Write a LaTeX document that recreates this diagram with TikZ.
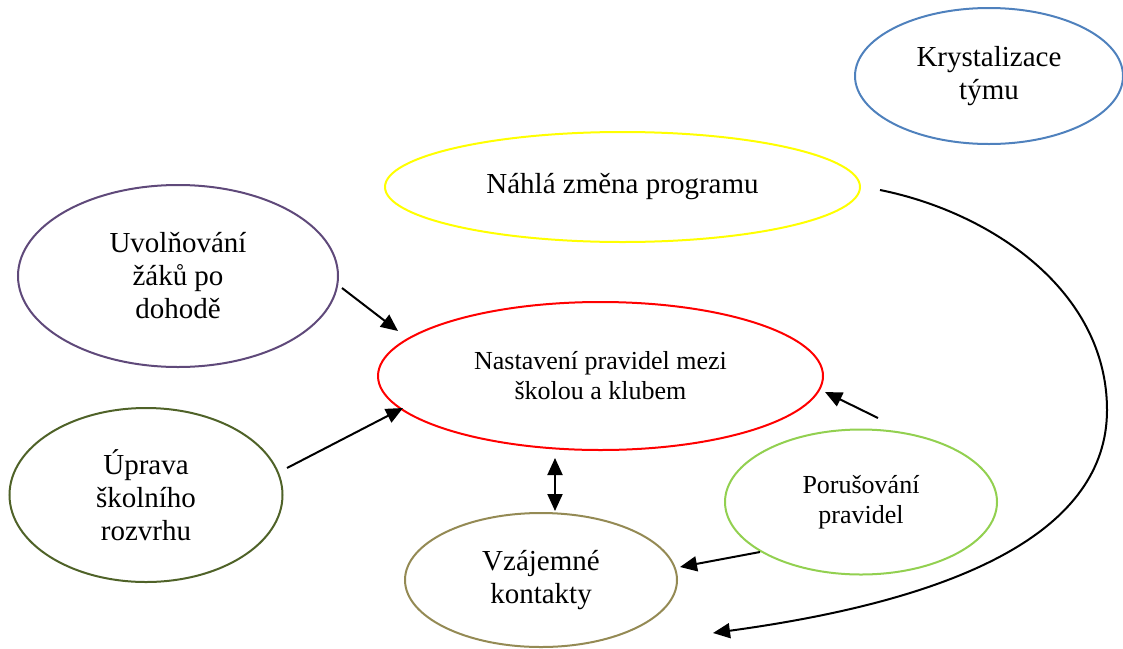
\documentclass[tikz,border=0pt]{standalone}
\usepackage{fontspec}
\setmainfont{Liberation Serif}
\usetikzlibrary{shapes.geometric,arrows.meta}
\definecolor{blueE}{HTML}{4F81BD}
\definecolor{yellowE}{HTML}{FFFF00}
\definecolor{purpleE}{HTML}{5F497A}
\definecolor{redE}{HTML}{FF0000}
\definecolor{oliveE}{HTML}{4F6228}
\definecolor{lgreenE}{HTML}{92D050}
\definecolor{khakiE}{HTML}{948A54}
\tikzset{
  ell/.style={ellipse, draw, line width=2pt, inner sep=0pt, align=center,
    font=\fontsize{29}{33}\selectfont},
  ellsmall/.style={ell, font=\fontsize{26}{30}\selectfont},
  tip/.style={Triangle[length=17pt,width=15pt]},
  arr/.style={line width=2pt, -{Triangle[length=17pt,width=15pt]}},
  darr/.style={line width=2pt, {Triangle[length=17pt,width=15pt]}-{Triangle[length=17pt,width=15pt]}}
}
\begin{document}
\begin{tikzpicture}[x=1pt,y=-1pt]
\useasboundingbox (0,0) rectangle (1123,648);
\node[ell, draw=blueE, minimum width=268pt, minimum height=136pt] (kryst) at (989,76) {Krystalizace\\týmu};
\node[ell, draw=yellowE, minimum width=475pt, minimum height=110pt] (nahla) at (622.5,187) {Náhlá změna programu};
\node[ell, draw=purpleE, minimum width=320pt, minimum height=182pt] (uvol) at (178,276) {Uvolňování\\žáků po\\dohodě};
\node[ellsmall, draw=redE, minimum width=445pt, minimum height=148pt] (nast) at (600.5,376) {Nastavení pravidel mezi\\školou a klubem};
\node[ell, draw=oliveE, minimum width=273pt, minimum height=174pt] (uprava) at (146,495) {Úprava\\školního\\rozvrhu};
\node[ellsmall, draw=lgreenE, minimum width=272pt, minimum height=145pt] (poru) at (861,502) {Porušování\\pravidel};
\node[ell, draw=khakiE, minimum width=272pt, minimum height=134pt] (vzaj) at (541,580) {Vzájemné\\kontakty};

\coordinate (a1s) at (342,288);
\coordinate (a1e) at (398,331);
\coordinate (a2s) at (287,468);
\coordinate (a2e) at (403,408);
\coordinate (a3s) at (555,458);
\coordinate (a3e) at (555,511);
\coordinate (a4s) at (878,418);
\coordinate (a4e) at (825,392);
\coordinate (a5s) at (760,552);
\coordinate (a5e) at (680,567);
\coordinate (c1s) at (880,190);
\coordinate (c1m) at (1107,410);
\coordinate (c1e) at (713,633);

\draw[arr] (a1s) -- (a1e);
\draw[arr] (a2s) -- (a2e);
\draw[darr] (a3s) -- (a3e);
\draw[arr] (a4s) -- (a4e);
\draw[arr] (a5s) -- (a5e);
\draw[arr] (c1s) .. controls (990,212) and (1107,290) .. (c1m)
  .. controls (1107,530) and (963,599) .. (c1e);
\end{tikzpicture}
\end{document}
